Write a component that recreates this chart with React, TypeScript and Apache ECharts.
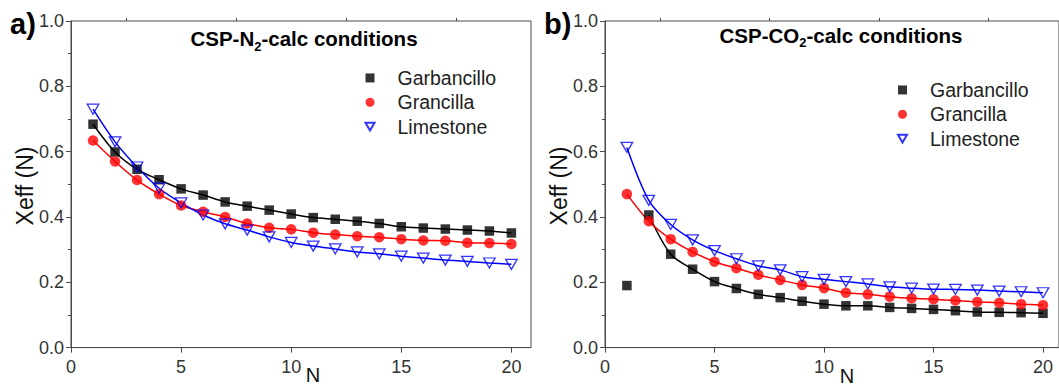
import React, { useEffect, useRef } from 'react';
import * as echarts from 'echarts';

// ---------- data ----------
const cycles = [1, 2, 3, 4, 5, 6, 7, 8, 9, 10, 11, 12, 13, 14, 15, 16, 17, 18, 19, 20];
const seriesNames = ['Garbancillo', 'Grancilla', 'Limestone'];

// panel a) CSP-N2-calc conditions
const garbancilloN2 = [0.684, 0.599, 0.546, 0.514, 0.486, 0.467, 0.446, 0.433, 0.421, 0.409, 0.398, 0.393, 0.387, 0.380, 0.370, 0.366, 0.363, 0.360, 0.357, 0.351];
const grancillaN2 = [0.634, 0.570, 0.513, 0.470, 0.435, 0.416, 0.400, 0.380, 0.367, 0.362, 0.352, 0.346, 0.341, 0.338, 0.332, 0.328, 0.327, 0.321, 0.320, 0.317];
const limestoneN2 = [0.730, 0.630, 0.553, 0.488, 0.443, 0.406, 0.379, 0.360, 0.339, 0.322, 0.311, 0.302, 0.293, 0.287, 0.280, 0.274, 0.268, 0.264, 0.259, 0.255];

// panel b) CSP-CO2-calc conditions
const garbancilloCO2 = [0.190, 0.406, 0.286, 0.240, 0.202, 0.181, 0.163, 0.153, 0.142, 0.133, 0.128, 0.128, 0.123, 0.120, 0.117, 0.113, 0.109, 0.108, 0.107, 0.105];
const grancillaCO2 = [0.470, 0.387, 0.332, 0.293, 0.263, 0.243, 0.223, 0.207, 0.192, 0.182, 0.168, 0.163, 0.156, 0.151, 0.148, 0.144, 0.140, 0.137, 0.133, 0.130];
const limestoneCO2 = [0.613, 0.451, 0.377, 0.330, 0.297, 0.272, 0.250, 0.238, 0.217, 0.209, 0.202, 0.195, 0.186, 0.182, 0.179, 0.178, 0.176, 0.173, 0.171, 0.168];
// first fitted point of Garbancillo (CO2) curve: fit starts at N = 2
const garbancilloCO2FitStart = 1;

const xMajorTicks = [0, 5, 10, 15, 20];
const xMinorTicks = [2.5, 7.5, 12.5, 17.5];

// title pieces: [before subscript, subscript, after subscript]
const titleA = ['CSP-N', '2', '-calc conditions'];
const titleB = ['CSP-CO', '2', '-calc conditions'];

// ---------- styles ----------
const FONT = '"Liberation Sans", Arial, Helvetica, sans-serif';
const AXIS = '#4a4a4a';
const LABEL = '#333333';
const COLORS = ['#000000', '#ff0000', '#0000ff'];
const TRI = 'path://M0,0L10,0L5,8.7Z';
const SYMBOLS = ['rect', 'circle', TRI];
const SYMBOL_SIZES: any[] = [9.5, 10.5, [11.5, 10]];
const TITLE_SIZE = 20.5;
const SUB_SIZE = 13;

const panels = [
  { left: 71, width: 460, xMax: 20.89, data: [garbancilloN2, grancillaN2, limestoneN2], fitStart: [0, 0, 0] },
  { left: 605, width: 457, xMax: 20.73, data: [garbancilloCO2, grancillaCO2, limestoneCO2], fitStart: [garbancilloCO2FitStart, 0, 0] },
];
const GRID_TOP = 21;
const GRID_H = 326.6;

let measureCtx: CanvasRenderingContext2D | null = null;
function measure(text: string, size: number, weight = 'bold') {
  if (!measureCtx) measureCtx = document.createElement('canvas').getContext('2d');
  if (!measureCtx) return text.length * size * 0.55;
  measureCtx.font = `${weight} ${size}px ${FONT}`;
  return measureCtx.measureText(text).width;
}

function buildOption() {
  const grid: any[] = [];
  const xAxis: any[] = [];
  const yAxis: any[] = [];
  const series: any[] = [];

  panels.forEach((p, pi) => {
    grid.push({
      left: p.left, top: GRID_TOP, width: p.width, height: GRID_H,
      show: true, borderColor: AXIS, borderWidth: 1, backgroundColor: 'transparent',
    });
    xAxis.push({
      type: 'value', gridIndex: pi, min: 0, max: p.xMax,
      axisLine: { show: true, onZero: false, lineStyle: { color: AXIS, width: 1 } },
      axisTick: { show: true, inside: false, length: 5, customValues: xMajorTicks, lineStyle: { color: AXIS } },
      axisLabel: { customValues: xMajorTicks, margin: 10, fontSize: 18, color: LABEL, fontFamily: FONT },
      splitLine: { show: false },
      minorTick: { show: false },
    });
    xAxis.push({
      type: 'value', gridIndex: pi, min: 0, max: p.xMax,
      axisLine: { show: false, onZero: false },
      axisTick: { show: true, inside: false, length: 3, customValues: xMinorTicks, lineStyle: { color: AXIS } },
      axisLabel: { show: false },
      splitLine: { show: false },
    });
    yAxis.push({
      type: 'value', gridIndex: pi, min: 0, max: 1, interval: 0.2,
      axisLine: { show: true, onZero: false, lineStyle: { color: AXIS, width: 1 } },
      axisTick: { show: true, inside: false, length: 5, lineStyle: { color: AXIS } },
      minorTick: { show: true, splitNumber: 2, length: 3, lineStyle: { color: AXIS } },
      axisLabel: { margin: 7, fontSize: 18, color: LABEL, fontFamily: FONT, formatter: (v: number) => v.toFixed(1) },
      splitLine: { show: false },
    });

    // fitted curves
    p.data.forEach((vals, si) => {
      series.push({
        type: 'line', name: seriesNames[si] + ' fit ' + pi,
        xAxisIndex: pi * 2, yAxisIndex: pi,
        data: cycles.map((n, i) => [n, vals[i]]).slice(p.fitStart[si]),
        smooth: 0.3, symbol: 'none', showSymbol: false,
        lineStyle: { color: COLORS[si], width: 1.5 },
        z: 2, silent: true,
      });
    });
    // markers
    p.data.forEach((vals, si) => {
      const hollow = si === 2;
      series.push({
        type: 'scatter', name: seriesNames[si],
        xAxisIndex: pi * 2, yAxisIndex: pi,
        data: cycles.map((n, i) => [n, vals[i]]),
        symbol: SYMBOLS[si], symbolSize: SYMBOL_SIZES[si],
        itemStyle: hollow
          ? { color: 'transparent', borderColor: COLORS[si], borderWidth: 1.3 }
          : { color: COLORS[si], borderWidth: 0 },
        z: 3, silent: true,
      });
    });
  });

  const legendItems = seriesNames.map((name, i) => ({ name, icon: SYMBOLS[i] }));
  const legendCommon = {
    orient: 'vertical', padding: 0, itemWidth: 9, itemHeight: 9, itemGap: 0,
    selectedMode: false,
    textStyle: { fontSize: 19.5, lineHeight: 24.3, color: '#222', fontFamily: FONT, padding: [0, 0, 0, 18] },
    data: legendItems,
  };
  const legend = [
    { ...legendCommon, left: 364.5, top: 65.8 },
    { ...legendCommon, left: 897, top: 77.8 },
  ];

  const txt = (text: string, x: number, y: number, font: any, extra: any = {}) => ({
    type: 'text', x, y, silent: true, ...extra,
    style: {
      text, x: 0, y: 0, fill: '#000',
      align: 'center', verticalAlign: 'middle', textAlign: 'center', textVerticalAlign: 'middle',
      fontFamily: FONT, ...font,
    },
  });

  const titleParts = (parts: string[], cx: number, cy: number) => {
    const w0 = measure(parts[0], TITLE_SIZE);
    const w1 = measure(parts[1], SUB_SIZE);
    const w2 = measure(parts[2], TITLE_SIZE);
    const x0 = cx - (w0 + w1 + w2) / 2;
    const L = { align: 'left', textAlign: 'left', fontWeight: 'bold' };
    return [
      txt(parts[0], x0, cy, { ...L, fontSize: TITLE_SIZE }),
      txt(parts[1], x0 + w0, cy + 7.5, { ...L, fontSize: SUB_SIZE }),
      txt(parts[2], x0 + w0 + w1, cy, { ...L, fontSize: TITLE_SIZE }),
    ];
  };

  const graphic = [
    txt('a)', 10, 24, { fontSize: 29, fontWeight: 'bold', align: 'left', textAlign: 'left' }),
    txt('b)', 544, 24, { fontSize: 29, fontWeight: 'bold', align: 'left', textAlign: 'left' }),
    ...titleParts(titleA, 304, 38.5),
    ...titleParts(titleB, 841, 35),
    txt('Xeff (N)', 25, 186, { fontSize: 23, fill: '#111' }, { rotation: Math.PI / 2 }),
    txt('Xeff (N)', 559, 186, { fontSize: 23, fill: '#111' }, { rotation: Math.PI / 2 }),
    txt('N', 313, 375, { fontSize: 20, fill: '#111' }),
    txt('N', 847, 376, { fontSize: 20, fill: '#111' }),
  ];

  return {
    animation: false,
    backgroundColor: '#ffffff',
    grid, xAxis, yAxis, series, legend, graphic,
  };
}

export default function App() {
  const ref = useRef<HTMLDivElement>(null);
  useEffect(() => {
    if (!ref.current) return;
    const chart = echarts.init(ref.current, undefined, { renderer: 'svg' });
    chart.setOption(buildOption() as any);
    return () => chart.dispose();
  }, []);
  return (
    <div
      ref={ref}
      style={{ position: 'fixed', left: 0, top: 0, width: 1059, height: 386, background: '#fff' }}
    />
  );
}
